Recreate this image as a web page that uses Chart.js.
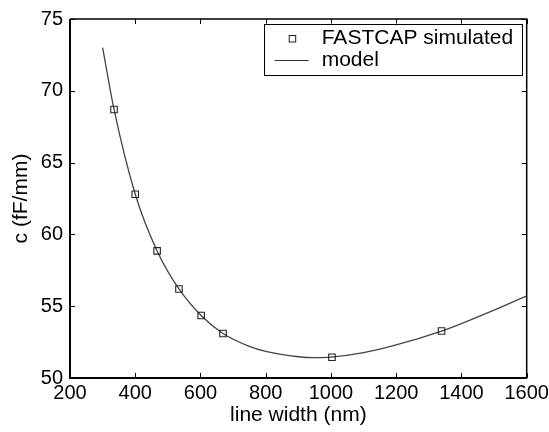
<!DOCTYPE html>
<html>
<head>
<meta charset="utf-8">
<script src="https://cdn.jsdelivr.net/npm/chart.js@4.4.1/dist/chart.umd.min.js"></script>
<style>
  html,body{margin:0;padding:0;background:#fff}
  #wrap{width:549px;height:432px;position:relative}
</style>
</head>
<body>
<div id="wrap"><canvas id="c"></canvas></div>
<script>
// FASTCAP simulated points
const simWidth=[335,400,467,534,602,669,1003,1339]
const simCap=[68.7,62.8,58.85,56.2,54.35,53.1,51.44,53.27]
// model curve
const modelWidth=[300,335,400,467,534,602,669,750,800,900,950,1000,1100,1200,1339,1400,1500,1600]
const modelCap=[73.0,68.7,62.8,58.85,56.2,54.35,53.1,52.2,51.85,51.48,51.42,51.45,51.76,52.3,53.27,53.79,54.72,55.72]
const xTicks=[200,400,600,800,1000,1200,1400,1600]
const yTicks=[50,55,60,65,70,75]

const FONT='"Liberation Sans", Arial, Helvetica, sans-serif'

const pts=(xs,ys)=>xs.map((x,i)=>({x,y:ys[i]}))

// box round the plot with inward ticks on all sides
const frame={
  id:'frame',
  afterDatasetsDraw(chart){
    const {ctx,chartArea:a,scales:{x,y}}=chart
    ctx.save()
    ctx.strokeStyle='#000'
    ctx.lineWidth=1
    const tl=5
    xTicks.forEach(v=>{
      const px=Math.round(x.getPixelForValue(v))+0.5
      ctx.beginPath()
      ctx.moveTo(px,a.bottom);ctx.lineTo(px,a.bottom-tl)
      ctx.moveTo(px,a.top);ctx.lineTo(px,a.top+tl)
      ctx.stroke()
    })
    yTicks.forEach(v=>{
      const py=Math.round(y.getPixelForValue(v))+0.5
      ctx.beginPath()
      ctx.moveTo(a.left,py);ctx.lineTo(a.left+tl,py)
      ctx.moveTo(a.right,py);ctx.lineTo(a.right-tl,py)
      ctx.stroke()
    })
    ctx.lineWidth=1.5
    ctx.beginPath()
    ctx.moveTo(a.left,a.top);ctx.lineTo(a.right,a.top);ctx.lineTo(a.right,a.bottom)
    ctx.stroke()
    ctx.lineWidth=2
    ctx.beginPath()
    ctx.moveTo(a.left,a.top);ctx.lineTo(a.left,a.bottom);ctx.lineTo(a.right,a.bottom)
    ctx.stroke()
    ctx.restore()
  }
}

// boxed legend in the top right corner
const boxLegend={
  id:'boxLegend',
  afterDraw(chart){
    const {ctx,chartArea:a}=chart
    const ds=chart.data.datasets
    const right=a.right-5, top=a.top+4.5, w=258, h=51
    const left=right-w
    ctx.save()
    ctx.fillStyle='#fff'
    ctx.fillRect(left,top,w,h)
    ctx.strokeStyle='#000'
    ctx.lineWidth=1
    ctx.strokeRect(Math.round(left)+0.5,Math.round(top)+0.5,w,h)
    ctx.font='21px '+FONT
    ctx.fillStyle='#000'
    ctx.textBaseline='middle'
    const tx=left+58
    const y1=top+15, y2=top+37
    ctx.strokeStyle='#222'
    ctx.strokeRect(left+25.5,y1-3,6.5,6.5)
    ctx.fillText(ds[0].label,tx,y1)
    ctx.strokeStyle='#333'
    ctx.lineWidth=1.2
    ctx.beginPath();ctx.moveTo(left+11,y2);ctx.lineTo(left+45,y2);ctx.stroke()
    ctx.fillText(ds[1].label,tx,y2)
    ctx.restore()
  }
}

new Chart(document.getElementById('c'),{
  type:'scatter',
  data:{
    datasets:[{
      label:'FASTCAP simulated',
      data:pts(simWidth,simCap),
      pointStyle:'rect',
      pointRadius:4.6,
      pointBorderWidth:1.1,
      pointBorderColor:'#222',
      pointBackgroundColor:'rgba(0,0,0,0)',
      showLine:false,
      order:0
    },{
      label:'model',
      data:pts(modelWidth,modelCap),
      showLine:true,
      pointRadius:0,
      borderColor:'#444',
      borderWidth:1.3,
      cubicInterpolationMode:'monotone',
      fill:false,
      order:1
    }]
  },
  options:{
    responsive:true,
    maintainAspectRatio:false,
    animation:false,
    layout:{padding:{left:0,top:19,right:22.3,bottom:0}},
    plugins:{legend:{display:false},tooltip:{enabled:false}},
    scales:{
      x:{
        type:'linear',min:200,max:1600,
        afterBuildTicks(s){s.ticks=xTicks.map(v=>({value:v}))},
        afterFit(s){s.height=54;s.paddingLeft=0;s.paddingRight=0},
        grid:{display:false,drawTicks:false},
        border:{display:false},
        ticks:{color:'#000',padding:3,maxRotation:0,autoSkip:false,callback:v=>String(v),font:{family:FONT,size:20}},
        title:{display:true,text:'line width (nm)',color:'#000',font:{family:FONT,size:21},padding:{top:0,bottom:4}}
      },
      y:{
        type:'linear',min:50,max:75,
        afterBuildTicks(s){s.ticks=yTicks.map(v=>({value:v}))},
        afterFit(s){s.width=70;s.paddingTop=0;s.paddingBottom=0},
        grid:{display:false,drawTicks:false},
        border:{display:false},
        ticks:{color:'#000',padding:7,callback:v=>String(v),font:{family:FONT,size:20}},
        title:{display:true,text:'c (fF/mm)',color:'#000',font:{family:FONT,size:21},padding:{top:9,bottom:0}}
      }
    }
  },
  plugins:[frame,boxLegend]
})
</script>
</body>
</html>
